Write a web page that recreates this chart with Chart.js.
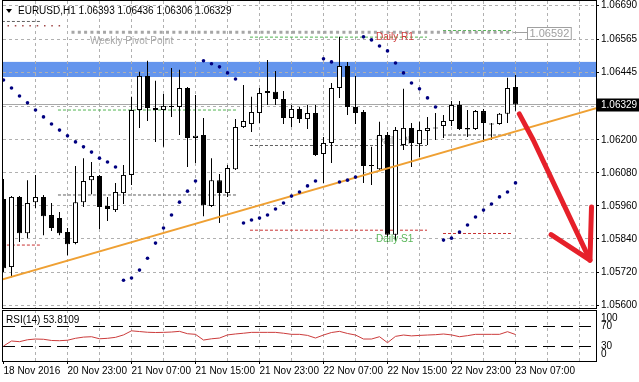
<!DOCTYPE html>
<html><head><meta charset="utf-8">
<script src="https://cdn.jsdelivr.net/npm/chart.js@4.4.0/dist/chart.umd.min.js"></script>
<style>
html,body{margin:0;padding:0;background:#fff;}
#wrap{position:relative;width:639px;height:382px;overflow:hidden;background:#fff;}
canvas{position:absolute;left:0;}
#main{top:0;}
#rsi{top:309px;}
</style></head><body>
<div id="wrap"><canvas id="main" width="639" height="309"></canvas><canvas id="rsi" width="639" height="73"></canvas></div>
<script>
const SYMBOL = 'EURUSD', TIMEFRAME = 'H1';
const OPEN = [1.05985,1.05738,1.05993,1.05861,1.05974,1.05993,1.05927,1.05916,1.05865,1.05825,
1.05974,1.06054,1.06069,1.05960,1.05945,1.06007,1.06073,1.06309,1.06433,1.06316,
1.06309,1.06324,1.06320,1.06389,1.06207,1.06218,1.05960,1.06054,1.06007,1.06094,
1.06247,1.06258,1.06298,1.06371,1.06375,1.06349,1.06280,1.06313,1.06276,1.06298,
1.06149,1.06189,1.06389,1.06469,1.06320,1.06302,1.06109,1.06094,1.06218,1.05855,
1.06182,1.06244,1.06185,1.06233,1.06244,1.06251,1.06269,1.06327,1.06244,1.06240,
1.06305,1.06258,1.06258,1.06295,1.06393];
const HIGH = [1.06058,1.05996,1.05996,1.06054,1.06073,1.06000,1.05971,1.05938,1.05880,1.06105,
1.06134,1.06120,1.06073,1.05993,1.06044,1.06109,1.06357,1.06448,1.06488,1.06415,
1.06367,1.06462,1.06455,1.06393,1.06364,1.06280,1.06134,1.06076,1.06109,1.06276,
1.06400,1.06357,1.06389,1.06491,1.06451,1.06378,1.06327,1.06320,1.06327,1.06327,
1.06211,1.06407,1.06575,1.06484,1.06433,1.06309,1.06175,1.06266,1.06229,1.06247,
1.06386,1.06262,1.06266,1.06284,1.06298,1.06291,1.06342,1.06342,1.06309,1.06309,
1.06313,1.06262,1.06298,1.06426,1.06436];
const LOW = [1.05720,1.05701,1.05829,1.05843,1.05952,1.05854,1.05869,1.05854,1.05781,1.05821,
1.05956,1.06003,1.05876,1.05905,1.05938,1.05967,1.06036,1.06244,1.06269,1.06193,
1.06175,1.06284,1.06218,1.06102,1.06116,1.05923,1.05956,1.05898,1.05993,1.06091,
1.06244,1.06229,1.06262,1.06327,1.06327,1.06258,1.06247,1.06262,1.06240,1.06142,
1.06044,1.06116,1.06353,1.06291,1.06258,1.06044,1.06036,1.06091,1.05829,1.05833,
1.06164,1.06102,1.06138,1.06182,1.06200,1.06207,1.06251,1.06236,1.06211,1.06236,
1.06193,1.06200,1.06255,1.06262,1.06306];
const CLOSE = [1.05734,1.05993,1.05861,1.05971,1.05993,1.05923,1.05880,1.05861,1.05821,1.05974,
1.06051,1.06069,1.05956,1.05949,1.06011,1.06073,1.06309,1.06433,1.06316,1.06309,
1.06324,1.06320,1.06389,1.06207,1.06215,1.05963,1.06054,1.06007,1.06098,1.06247,
1.06269,1.06302,1.06371,1.06378,1.06349,1.06280,1.06313,1.06276,1.06298,1.06145,
1.06189,1.06389,1.06469,1.06320,1.06298,1.06105,1.06105,1.06218,1.05855,1.06236,
1.06244,1.06189,1.06236,1.06244,1.06242,1.06269,1.06327,1.06240,1.06238,1.06305,
1.06262,1.06256,1.06295,1.06389,1.06329];
const SAR = [1.06418,1.06389,1.06360,1.06335,1.06309,1.06284,1.06258,1.06236,1.06215,1.06193,
1.06175,1.06156,1.06134,1.06120,1.06102,1.05690,1.05698,1.05727,1.05770,1.05825,
1.05880,1.05927,1.05974,1.06014,1.06051,1.06488,1.06477,1.06466,1.06444,1.06422,
1.05898,1.05909,1.05916,1.05927,1.05949,1.05971,1.05996,1.06011,1.06033,1.06051,
1.06495,1.06484,1.06047,1.06054,1.06065,1.06575,1.06564,1.06542,1.06524,1.06480,
1.06444,1.06407,1.06386,1.06353,1.06320,1.05836,1.05843,1.05865,1.05891,1.05920,
1.05945,1.05967,1.05993,1.06011,1.06044];
const RSI = [30.0,40.4,39.0,43.0,44.5,44.0,41.5,41.0,42.0,46.0,
48.5,49.3,45.0,46.0,48.0,53.0,61.5,60.0,58.5,58.0,
58.3,59.0,60.4,55.5,54.2,42.4,45.0,46.5,53.0,55.0,
56.5,58.3,58.3,58.3,58.3,56.5,54.2,54.2,52.0,46.6,
52.8,58.0,60.4,56.0,52.8,44.5,44.5,49.3,36.9,50.0,
52.8,51.0,52.0,52.8,53.5,54.9,53.0,49.3,51.5,54.2,
54.2,54.2,54.2,59.7,53.8109];
const RSI_PERIOD = 14;
const TIME_IDX = [0,8,16,24,32,40,48,56,64];
const TIME_LABELS = ['18 Nov 2016','20 Nov 23:00','21 Nov 07:00','21 Nov 15:00','21 Nov 23:00','22 Nov 07:00','22 Nov 15:00','22 Nov 23:00','23 Nov 07:00'];
const VGRID = [0,4,8,12,16,20,24,28,32,36,40,44,48,52,56,60,64,68,72];
const PRICE_TICKS = [1.05600,1.05720,1.05840,1.05960,1.06080,1.06200,1.06320,1.06445,1.06565,1.06690];
const RSI_TICKS = [100,70,30,0];
const RSI_LEVELS = [70,30];
const X_RANGE = [-0.0625, 74.0625];
const Y_RANGE = [1.055891, 1.067054];
const RSI_RANGE = [-1, 104.6];
const BAND = [1.06429, 1.06484];
const TREND_X = [-0.1, 74.1], TREND_Y = [1.056935, 1.063156];
const ARROW_X = [64.47, 66.22, 73.31], ARROW_Y = [1.06295, 1.06200, 1.05763];
const ARROW_HEAD_X = [68.45, 73.31, 73.5], ARROW_HEAD_Y = [1.05856, 1.05763, 1.05956];
const SEG_START = [-0.2, 6.81, 30.81, 54.94];
const SEG_END = [4.8, 29.19, 52.94, 63.69];
const R1 = [null, 1.06309, 1.06574, 1.06598];
const PP = [1.06631, 1.06000, 1.06180, 1.06218];
const S1 = [1.05818, null, 1.05872, 1.05860];
const PREV_SEG = [0.5, 7.6], PREV_LEVEL = 1.06615;
const WEEKLY_PIVOT = 1.06592, WEEKLY_SEG = [8.5, 63.7], WEEKLY_LABEL_IDX = 65.44;
const ANNOT_TEXT = ['Weekly Pivot Point','Daily R1','Daily PP','Daily S1'];
const ANNOT_IDX = [10.81, 46.56, 46.56, 46.56];
const ANNOT_PRICE = [1.06560, 1.06575, 1.06196, 1.05840];
const ANNOT_COLOR = ['#a8a8a8','#d03c3c','#8c8c8c','#5cb85c'];
const ANNOT_BACK = [false, false, true, false];

const FAM = '"Liberation Sans", Arial, sans-serif';
const fnt = s => s + 'px ' + FAM;
const crisp = v => Math.round(v - 0.5) + 0.5;
const GRID_COLOR = '#b0b0b0';
const last = CLOSE.length - 1;
const pts = (xs, ys) => xs.map((x, i) => ({x: x, y: ys[i]}));

function drawVGrid(ctx, a, xs) {
  VGRID.forEach(v => {
    const px = crisp(xs.getPixelForValue(v));
    if (px < a.left + 2 || px > a.right - 2) return;
    ctx.beginPath(); ctx.moveTo(px, a.top); ctx.lineTo(px, a.bottom); ctx.stroke();
  });
}
function drawAnnot(ctx, xs, ys, back) {
  ctx.font = fnt(10); ctx.textBaseline = 'middle'; ctx.textAlign = 'left';
  ANNOT_TEXT.forEach((t, i) => {
    if (ANNOT_BACK[i] !== back) return;
    ctx.fillStyle = ANNOT_COLOR[i];
    ctx.fillText(t, xs.getPixelForValue(ANNOT_IDX[i]), ys.getPixelForValue(ANNOT_PRICE[i]));
  });
}

const mainPlugin = {
  id: 'mtMain',
  beforeDraw(chart) {
    const {ctx, chartArea: a, scales: {x: xs, y: ys}} = chart;
    ctx.save();
    ctx.fillStyle = '#fff'; ctx.fillRect(0, 0, chart.width, chart.height);
    const y1 = ys.getPixelForValue(BAND[1]), y2 = ys.getPixelForValue(BAND[0]);
    ctx.fillStyle = '#6495ed'; ctx.fillRect(a.left, y1, a.right - a.left, y2 - y1);
    ctx.restore();
  },
  beforeDatasetsDraw(chart) {
    const {ctx, chartArea: a, scales: {x: xs, y: ys}} = chart;
    ctx.save();
    ctx.beginPath(); ctx.rect(a.left, a.top, a.right - a.left, a.bottom - a.top); ctx.clip();
    ctx.strokeStyle = GRID_COLOR; ctx.lineWidth = 1; ctx.setLineDash([3, 3]);
    PRICE_TICKS.forEach(v => {
      const py = crisp(ys.getPixelForValue(v));
      ctx.beginPath(); ctx.moveTo(a.left, py); ctx.lineTo(a.right, py); ctx.stroke();
    });
    drawVGrid(ctx, a, xs);
    ctx.setLineDash([]); ctx.strokeStyle = '#a8a8a8';
    const by = crisp(ys.getPixelForValue(CLOSE[last]));
    ctx.beginPath(); ctx.moveTo(a.left, by); ctx.lineTo(a.right, by); ctx.stroke();
    drawAnnot(ctx, xs, ys, true);
    ctx.restore();
  },
  afterDatasetsDraw(chart) {
    const {ctx, chartArea: a, scales: {x: xs, y: ys}} = chart;
    ctx.save();
    drawAnnot(ctx, xs, ys, false);
    // weekly pivot price label box
    const wy = ys.getPixelForValue(WEEKLY_PIVOT);
    const bx = Math.round(xs.getPixelForValue(WEEKLY_LABEL_IDX));
    const lbl = WEEKLY_PIVOT.toFixed(5);
    ctx.font = fnt(11);
    const tw = ctx.measureText(lbl).width;
    ctx.strokeStyle = '#a0a0a0'; ctx.lineWidth = 1;
    ctx.beginPath(); ctx.moveTo(xs.getPixelForValue(WEEKLY_SEG[1]), crisp(wy)); ctx.lineTo(bx, crisp(wy)); ctx.stroke();
    ctx.fillStyle = '#fff';
    ctx.fillRect(bx + 0.5, Math.round(wy) - 4.5, tw + 4, 12);
    ctx.strokeRect(bx + 0.5, Math.round(wy) - 4.5, tw + 4, 12);
    ctx.fillStyle = '#a0a0a0'; ctx.textBaseline = 'middle'; ctx.textAlign = 'left';
    ctx.fillText(lbl, bx + 2.5, Math.round(wy) + 1.5);
    // title
    ctx.fillStyle = '#000';
    ctx.beginPath(); ctx.moveTo(6, 9); ctx.lineTo(12, 9); ctx.lineTo(9, 13); ctx.closePath(); ctx.fill();
    ctx.font = fnt(10);
    const f5 = v => v.toFixed(5);
    ctx.fillText(SYMBOL + ',' + TIMEFRAME + ' ' + f5(OPEN[last]) + ' ' + f5(HIGH[last]) + ' ' + f5(LOW[last]) + ' ' + f5(CLOSE[last]), 18, 11);
    // frame
    ctx.strokeStyle = '#000'; ctx.lineWidth = 1;
    ctx.strokeRect(a.left - 0.5, a.top - 0.5, a.right - a.left + 1, a.bottom - a.top + 1);
    // current price box
    const py = ys.getPixelForValue(CLOSE[last]);
    ctx.fillStyle = '#000';
    ctx.fillRect(a.right + 1, Math.round(py) - 6.5, chart.width - a.right - 1, 13);
    ctx.fillStyle = '#fff'; ctx.font = fnt(10);
    ctx.fillText(f5(CLOSE[last]), a.right + 5, Math.round(py));
    ctx.restore();
  }
};

const datasets = [];
datasets.push({type: 'line', data: pts(ARROW_X, ARROW_Y), borderColor: '#e6202a', borderWidth: 5,
  borderCapStyle: 'round', borderJoinStyle: 'round', pointRadius: 0, order: 0});
datasets.push({type: 'line', data: pts(ARROW_HEAD_X, ARROW_HEAD_Y), borderColor: '#e6202a', borderWidth: 5,
  borderCapStyle: 'round', borderJoinStyle: 'round', pointRadius: 0, order: 0});
datasets.push({type: 'line', data: SAR.map((v, i) => ({x: i, y: v})), showLine: false, pointRadius: 1.8,
  pointBackgroundColor: '#000080', pointBorderWidth: 0, pointStyle: 'circle', order: 1});
datasets.push({type: 'line', data: pts(TREND_X, TREND_Y), borderColor: '#efa033', borderWidth: 2, pointRadius: 0, order: 2});
datasets.push({type: 'bar', data: OPEN.map((o, i) => ({x: i, y: [o, CLOSE[i]]})),
  backgroundColor: OPEN.map((o, i) => CLOSE[i] > o ? '#ffffff' : '#000000'),
  borderColor: '#000', borderWidth: 1, borderSkipped: false, barThickness: 5, minBarLength: 1,
  grouped: false, inflateAmount: 0, order: 3});
datasets.push({type: 'bar', data: HIGH.map((h, i) => ({x: i, y: [LOW[i], h]})),
  backgroundColor: '#000', borderWidth: 0, barThickness: 1, minBarLength: 1, grouped: false, inflateAmount: 0, order: 4});
datasets.push({type: 'line', data: pts(WEEKLY_SEG, [WEEKLY_PIVOT, WEEKLY_PIVOT]), borderColor: '#a6a6a6', borderWidth: 3,
  borderDash: [3, 3.3], borderCapStyle: 'butt', pointRadius: 0, order: 5});
datasets.push({type: 'line', data: pts(PREV_SEG, [PREV_LEVEL, PREV_LEVEL]), borderColor: '#a04848', borderWidth: 1.5,
  borderDash: [1.5, 5.8], pointRadius: 0, order: 6});
SEG_START.forEach((s, k) => {
  const e = SEG_END[k];
  [[R1[k], '#50b450'], [PP[k], '#606060'], [S1[k], '#c83232']].forEach(([v, c]) => {
    if (v === null) return;
    datasets.push({type: 'line', data: pts([s, e], [v, v]), borderColor: c, borderWidth: 1,
      borderDash: [3, 2], pointRadius: 0, order: 6});
  });
});

new Chart(document.getElementById('main'), {
  type: 'bar',
  data: {datasets: datasets},
  options: {
    responsive: false, maintainAspectRatio: false, animation: false, events: [], devicePixelRatio: 1,
    layout: {padding: {left: 3, right: 0, top: 1, bottom: 1}, autoPadding: false},
    plugins: {legend: {display: false}, tooltip: {enabled: false}},
    scales: {
      x: {type: 'linear', display: false, min: X_RANGE[0], max: X_RANGE[1], offset: false},
      y: {type: 'linear', position: 'right', min: Y_RANGE[0], max: Y_RANGE[1], beginAtZero: false,
        afterFit(s) { s.width = 43; s.paddingTop = 0; s.paddingBottom = 0; },
        afterBuildTicks(s) { s.ticks = PRICE_TICKS.map(v => ({value: v})); },
        ticks: {callback: v => Number(v).toFixed(5), font: {family: FAM, size: 10}, color: '#000', padding: 2, autoSkip: false},
        grid: {display: true, drawOnChartArea: false, drawTicks: true, tickLength: 3, tickColor: '#000', color: '#000'},
        border: {display: false}}
    }
  },
  plugins: [mainPlugin]
});

const rsiPlugin = {
  id: 'mtRsi',
  beforeDraw(chart) {
    const {ctx} = chart;
    ctx.save(); ctx.fillStyle = '#fff'; ctx.fillRect(0, 0, chart.width, chart.height); ctx.restore();
  },
  beforeDatasetsDraw(chart) {
    const {ctx, chartArea: a, scales: {x: xs, y: ys}} = chart;
    ctx.save();
    ctx.beginPath(); ctx.rect(a.left, a.top, a.right - a.left, a.bottom - a.top); ctx.clip();
    ctx.strokeStyle = GRID_COLOR; ctx.lineWidth = 1; ctx.setLineDash([3, 3]);
    drawVGrid(ctx, a, xs);
    ctx.strokeStyle = '#000'; ctx.setLineDash([12, 6]);
    RSI_LEVELS.forEach(l => {
      const py = crisp(ys.getPixelForValue(l));
      ctx.beginPath(); ctx.moveTo(a.left, py); ctx.lineTo(a.right, py); ctx.stroke();
    });
    ctx.restore();
  },
  afterDatasetsDraw(chart) {
    const {ctx, chartArea: a, scales: {y: ys}} = chart;
    ctx.save();
    ctx.strokeStyle = '#000'; ctx.lineWidth = 1;
    ctx.strokeRect(a.left - 0.5, a.top + 0.5, a.right - a.left + 1, a.bottom - a.top);
    ctx.fillStyle = '#000'; ctx.font = fnt(10); ctx.textBaseline = 'middle'; ctx.textAlign = 'left';
    ctx.fillText('RSI(' + RSI_PERIOD + ') ' + RSI[RSI.length - 1].toFixed(4), 6, a.top + 10);
    RSI_TICKS.forEach(v => {
      const cy = Math.min(Math.max(ys.getPixelForValue(v), a.top + 8), a.bottom - 7);
      ctx.fillText(String(v), a.right + 5, cy);
    });
    ctx.restore();
  }
};

new Chart(document.getElementById('rsi'), {
  type: 'line',
  data: {datasets: [{data: RSI.map((v, i) => ({x: i, y: v})), borderColor: '#cc3c3c', borderWidth: 1, pointRadius: 0, tension: 0}]},
  options: {
    responsive: false, maintainAspectRatio: false, animation: false, events: [], devicePixelRatio: 1,
    layout: {padding: {left: 3, right: 0, top: 1, bottom: 0}, autoPadding: false},
    plugins: {legend: {display: false}, tooltip: {enabled: false}},
    scales: {
      x: {type: 'linear', min: X_RANGE[0], max: X_RANGE[1], offset: false,
        afterFit(s) { s.height = 21; s.paddingLeft = 0; s.paddingRight = 0; },
        afterBuildTicks(s) { s.ticks = TIME_IDX.map(v => ({value: v})); },
        ticks: {callback: (v, i) => TIME_LABELS[i], align: 'start', maxRotation: 0, minRotation: 0, autoSkip: false,
          font: {family: FAM, size: 10}, color: '#000', padding: 1},
        grid: {display: true, drawOnChartArea: false, drawTicks: true, tickLength: 3, tickColor: '#000', color: '#000', offset: false},
        border: {display: false}},
      y: {type: 'linear', position: 'right', min: RSI_RANGE[0], max: RSI_RANGE[1],
        afterFit(s) { s.width = 43; s.paddingTop = 0; s.paddingBottom = 0; },
        ticks: {display: false}, grid: {display: false}, border: {display: false}}
    }
  },
  plugins: [rsiPlugin]
});
</script>
</body></html>
